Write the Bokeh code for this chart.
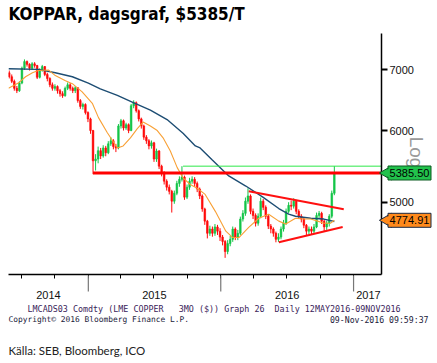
import pandas as pd
from bokeh.plotting import figure
from bokeh.models import Range1d, FixedTicker, ColumnDataSource, LinearScale
from bokeh.core.properties import value
from bokeh.embed import file_html
from bokeh.resources import INLINE

# ---------------- data ----------------
week_dates = pd.date_range("2014-05-28", "2016-11-09", freq="7D")
first_open = 6950
closes = [
    6880, 6800, 6680, 6640, 6770, 7030, 7150, 7100, 7030, 7110,
    7080, 6870, 7000, 7060, 6920, 6850, 6740, 6680, 6710, 6640,
    6590, 6555, 6680, 6740, 6680, 6640, 6690, 6475, 6380, 6410,
    6280, 6180, 6000, 5555, 5580, 5700, 5625, 5740, 5670, 5800,
    5845, 5760, 5740, 6070, 6150, 6040, 6090, 6000, 6390, 6440,
    6310, 6180, 6070, 5900, 5845, 5770, 5815, 5580, 5695, 5480,
    5390, 5275, 5195, 5140, 5013, 5115, 5245, 5300, 5330, 5065,
    5195, 5275, 5300, 5245, 5170, 5080, 4915, 4765, 4620, 4670,
    4620, 4695, 4645, 4575, 4525, 4410, 4500, 4550, 4670, 4575,
    4620, 4790, 4860, 5013, 5080, 4885, 4835, 4740, 4825, 5013,
    4935, 4825, 4705, 4670, 4620, 4550, 4575, 4670, 4740, 4885,
    4960, 4950, 5013, 4885, 4825, 4790, 4715, 4645, 4670, 4645,
    4695, 4835, 4860, 4765, 4695, 4740, 4825, 5115, 5385]
highs = [
    6990, 6920, 6830, 6720, 6800, 7060, 7190, 7170, 7120, 7140,
    7140, 7090, 7030, 7090, 7070, 6950, 6870, 6780, 6750, 6730,
    6670, 6630, 6710, 6780, 6770, 6710, 6720, 6700, 6500, 6440,
    6430, 6300, 6200, 6010, 5650, 5760, 5740, 5780, 5770, 5840,
    5900, 5870, 5800, 6100, 6180, 6170, 6120, 6110, 6420, 6480,
    6460, 6330, 6200, 6090, 5930, 5870, 5850, 5830, 5730, 5710,
    5500, 5410, 5300, 5230, 5160, 5150, 5280, 5340, 5480, 5350,
    5230, 5320, 5340, 5330, 5270, 5190, 5100, 4930, 4780, 4710,
    4700, 4730, 4720, 4680, 4600, 4540, 4540, 4590, 4700, 4690,
    4660, 4820, 4900, 5060, 5180, 5100, 4920, 4860, 4860, 5060,
    5040, 4960, 4840, 4730, 4690, 4640, 4620, 4700, 4780, 4920,
    5000, 5020, 5050, 5030, 4910, 4850, 4810, 4730, 4700, 4700,
    4730, 4870, 4890, 4880, 4780, 4770, 4850, 5150, 5480]
lows = [
    6850, 6770, 6640, 6600, 6620, 6750, 7000, 7060, 6990, 7000,
    7040, 6840, 6850, 6970, 6890, 6800, 6700, 6640, 6640, 6590,
    6540, 6520, 6540, 6650, 6640, 6600, 6600, 6440, 6340, 6330,
    6250, 6130, 5950, 5370, 5420, 5520, 5580, 5600, 5620, 5650,
    5770, 5720, 5680, 5720, 6030, 6000, 6010, 5960, 5990, 6350,
    6280, 6140, 6030, 5860, 5800, 5720, 5730, 5540, 5540, 5440,
    5340, 5230, 5150, 5100, 4870, 4980, 5090, 5200, 5270, 5030,
    5040, 5160, 5240, 5200, 5130, 5040, 4880, 4720, 4560, 4590,
    4580, 4590, 4600, 4530, 4480, 4340, 4380, 4470, 4520, 4540,
    4540, 4600, 4760, 4830, 4980, 4850, 4790, 4700, 4710, 4800,
    4900, 4790, 4670, 4620, 4580, 4515, 4520, 4550, 4640, 4720,
    4860, 4900, 4920, 4850, 4790, 4750, 4680, 4600, 4610, 4600,
    4620, 4680, 4800, 4730, 4640, 4660, 4700, 4800, 5090]

ma_fast_dates = ["2014-05-26", "2014-06-22", "2014-07-12", "2014-07-31", "2014-08-16",
                 "2014-09-13", "2014-10-02", "2014-10-30", "2014-11-18", "2014-12-15",
                 "2015-01-12", "2015-01-29", "2015-02-22", "2015-03-22", "2015-04-07",
                 "2015-04-27", "2015-05-16", "2015-06-01", "2015-06-21", "2015-07-10",
                 "2015-07-26", "2015-08-15", "2015-09-03", "2015-09-19", "2015-10-09",
                 "2015-10-28", "2015-11-19", "2015-12-17", "2016-01-15", "2016-02-03",
                 "2016-02-20", "2016-03-18", "2016-04-15", "2016-05-12", "2016-06-09",
                 "2016-06-28", "2016-07-25", "2016-08-16", "2016-09-05", "2016-09-24",
                 "2016-10-11", "2016-10-30", "2016-11-09"]
ma_fast = [6680, 6770, 6880, 6950, 6990,
           7000, 6900, 6810, 6760, 6620,
           6430, 6200, 5970, 5740, 5770,
           5890, 6030, 6130, 6070, 6000,
           5890, 5695, 5460, 5320, 5230,
           5180, 5100, 4885, 4645, 4570,
           4570, 4690, 4800, 4850, 4765,
           4730, 4800, 4790, 4790, 4765,
           4740, 4740, 4775]

ma_slow_dates = ["2014-05-26", "2014-08-16", "2014-10-02", "2014-11-18", "2015-01-01",
                 "2015-02-03", "2015-03-22", "2015-05-05", "2015-06-21", "2015-08-06",
                 "2015-09-19", "2015-10-23", "2015-11-05", "2015-12-08", "2016-01-23",
                 "2016-03-10", "2016-04-26", "2016-06-09", "2016-07-06", "2016-07-25",
                 "2016-09-05", "2016-10-11", "2016-11-09"]
ma_slow = [7020, 7010, 6950, 6880, 6770,
           6670, 6560, 6440, 6320, 6170,
           5960, 5770, 5740, 5570, 5345,
           5210, 5065, 4920, 4850, 4825,
           4800, 4790, 4760]

support_level = 5385.5
support_start = "2015-01-14"
high_level = 5480
high_start = "2015-09-19"
tri_upper_dates = ["2016-03-18", "2016-12-05"]
tri_upper = [5140, 4910]
tri_lower_dates = ["2016-06-09", "2016-12-02"]
tri_lower = [4515, 4695]

last_price = 5385.50
last_fast_ma = 4774.91
y_ticks = [5000, 6000, 7000]
year_labels = ["2014", "2015", "2016", "2017"]
year_label_dates = ["2014-09-13", "2015-07-02", "2016-07-02", "2017-02-11"]
year_starts = ["2015-01-01", "2016-01-01", "2017-01-01"]
quarter_starts = ["2014-07-01", "2014-10-01", "2015-04-01", "2015-07-01", "2015-10-01",
                  "2016-04-01", "2016-07-01", "2016-10-01"]

title_text = "KOPPAR, dagsgraf, $5385/T"
info_line = "LMCADS03 Comdty (LME COPPER\u00a0\u00a0 3MO ($)) Graph 26\u00a0 Daily 12MAY2016-09NOV2016"
copyright_line = "Copyright\u00a9 2016 Bloomberg Finance L.P."
stamp_line = "09-Nov-2016 09:59:37"
source_line = "K\u00e4lla: SEB, Bloomberg, ICO"


# ---------------- helpers ----------------
def ms(d):
    return pd.Timestamp(d).value / 1e6


x_start, x_end = "2014-05-26", "2017-03-19"
W, H = 437, 363
FL, FR, FT, FB = 8, 381, 33, 274  # frame edges in page pixels

opens = [first_open] + closes[:-1]
up = [c >= o for o, c in zip(opens, closes)]
GREEN = "#14c548"
RED = "#ff0a0a"
src = ColumnDataSource(dict(
    x=week_dates,
    top=[max(o, c) for o, c in zip(opens, closes)],
    bottom=[min(o, c) for o, c in zip(opens, closes)],
    hi=highs, lo=lows,
    color=[GREEN if u else RED for u in up],
))

p = figure(width=W, height=H, x_axis_type="datetime", y_axis_type="log",
           y_axis_location="right", output_backend="svg", toolbar_location=None,
           x_range=Range1d(ms(x_start), ms(x_end)), y_range=Range1d(4160, 7680),
           min_border_left=FL, min_border_right=W - FR, min_border_top=FT,
           min_border_bottom=H - FB)
p.title.visible = False
p.outline_line_color = None
p.grid.visible = False
p.background_fill_color = "white"
p.border_fill_color = "white"
# page-pixel helper ranges (for texts placed around the frame)
p.extra_x_ranges = {"px": Range1d(FL, FR)}
p.extra_y_ranges = {"py": Range1d(FB, FT)}
p.extra_x_scales = {"px": LinearScale()}
p.extra_y_scales = {"py": LinearScale()}

# bars
p.segment(x0="x", x1="x", y0="lo", y1="hi", color="color", line_width=1, source=src)
p.vbar(x="x", width=4.5 * 86400000, top="top", bottom="bottom",
       fill_color="color", line_color="color", line_width=0.6, source=src)

# moving averages
p.line(pd.to_datetime(ma_slow_dates), ma_slow, line_color="#1d4d73", line_width=1.4)
p.line(pd.to_datetime(ma_fast_dates), ma_fast, line_color="#f8a035", line_width=1.1)

# horizontal levels and triangle
p.line([ms(high_start), ms(x_end)], [high_level, high_level], line_color="#2ee84a", line_width=1)
p.line([ms(support_start), ms(x_end)], [support_level, support_level], line_color="#ff0000", line_width=3)
p.line(pd.to_datetime(tri_upper_dates), tri_upper, line_color="#ff1010", line_width=2)
p.line(pd.to_datetime(tri_lower_dates), tri_lower, line_color="#ff1010", line_width=2)

# x axis: quarter + year tick marks, labels at mid-year
xa = p.xaxis[0]
xa.ticker = FixedTicker(ticks=[ms(d) for d in year_label_dates],
                        minor_ticks=[ms(d) for d in quarter_starts + year_starts])
xa.major_label_overrides = {ms(d): lab for d, lab in zip(year_label_dates, year_labels)}
xa.axis_line_color = "black"
xa.axis_line_width = 1.5
xa.major_tick_out = 0
xa.major_tick_in = 0
xa.major_tick_line_color = None
xa.minor_tick_out = 4
xa.minor_tick_in = 0
xa.minor_tick_line_color = "black"
xa.major_label_standoff = 12
xa.major_label_text_font = "Liberation Sans"
xa.major_label_text_font_size = "11px"
xa.major_label_text_color = "#111111"

# long grey year-boundary ticks below the axis
p.segment(x0=[ms(d) for d in year_starts], x1=[ms(d) for d in year_starts],
          y0=FB + 1, y1=FB + 17, y_range_name="py", line_color="#777777",
          line_width=1.2, level="overlay")

# y axis (right, log)
ya = p.yaxis[0]
ya.ticker = FixedTicker(ticks=y_ticks, minor_ticks=[])
ya.axis_line_color = "black"
ya.axis_line_width = 1.5
ya.major_tick_out = 6
ya.major_tick_in = 0
ya.major_tick_line_width = 2
ya.major_tick_line_color = "black"
ya.minor_tick_line_color = None
ya.major_label_standoff = 2
ya.major_label_text_font = "Liberation Sans"
ya.major_label_text_font_size = "11px"
ya.major_label_text_color = "#111111"

NARROW = "'Liberation Sans Narrow', 'DejaVu Sans Condensed', sans-serif"
MONO = "DejaVu Sans Mono"


def page_text(x, y, txt, font, size, color, align="left", style="normal", angle=0.0):
    p.text(x=[x], y=[y], text=[txt], x_range_name="px", y_range_name="py",
           text_font=value(font), text_font_size=value(size), text_color=color,
           text_align=align, text_baseline="middle", text_font_style=style,
           angle=angle, level="overlay")


page_text(8, 13, title_text, NARROW, "17px", "black", style="bold")
page_text(416, 152, "Log", "Liberation Sans", "19px", "#9a9a9a", align="center", angle=-1.5708)
page_text(27, 308, info_line, MONO, "8.4px", "#3a1d5a")
page_text(8, 319, copyright_line, MONO, "7.9px", "#1a1a3a")
page_text(428, 319, stamp_line, MONO, "8.2px", "#1a1a3a", align="right")
page_text(8, 350, source_line, "Lato", "11.5px", "#222222")

# value tags on the right of the price axis
for val, txt, fill, edge in [(last_price, "%.2f" % last_price, "#22c24c", "#0a5a20"),
                             (last_fast_ma, "%.2f" % last_fast_ma, "#ff8a1c", "#1a2a44")]:
    p.scatter(x=[387], y=[val], marker="triangle", size=14, angle=1.5708,
              x_range_name="px", fill_color=fill, line_color=edge, line_width=1, level="overlay")
    p.rect(x=[409], y=[val], width=43, height=14, width_units="screen", height_units="screen",
           x_range_name="px", fill_color=fill, line_color=edge, line_width=1, level="overlay")
    p.scatter(x=[387.5], y=[val], marker="triangle", size=11, angle=1.5708,
              x_range_name="px", fill_color=fill, line_color=None, level="overlay")
    p.text(x=[409], y=[val], text=[txt], x_range_name="px", text_font=value("Liberation Sans"),
           text_font_size=value("11px"), text_color="black", text_align="center",
           text_baseline="middle", level="overlay")

open("out.html", "w").write(file_html(p, INLINE))
